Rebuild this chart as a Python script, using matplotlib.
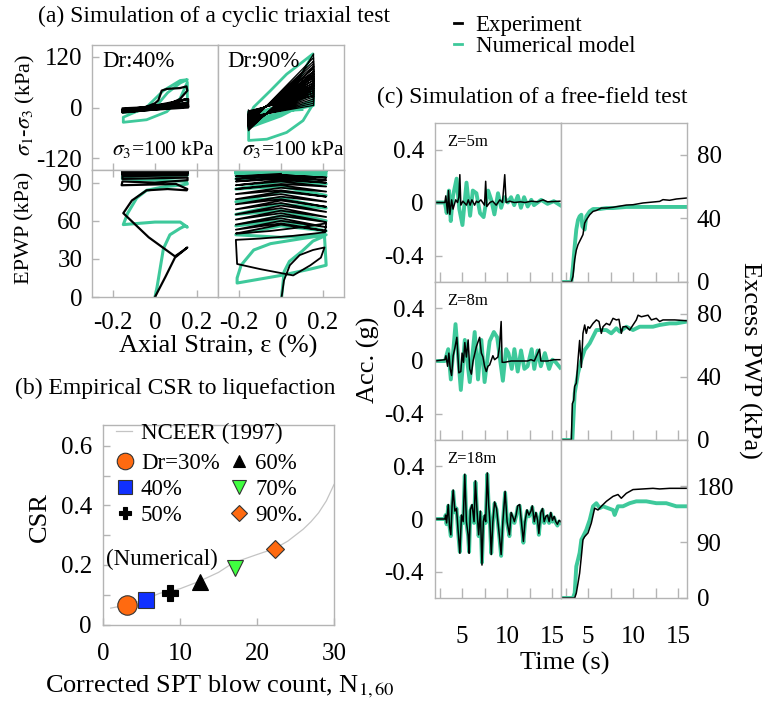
import numpy as np
import matplotlib
matplotlib.use('Agg')
import matplotlib.pyplot as plt
from matplotlib.lines import Line2D

plt.rcParams['font.family'] = ['Liberation Serif', 'DejaVu Serif']
plt.rcParams['mathtext.fontset'] = 'stix'

W, H = 763, 702
EXP = 'black'
NUM = '#3ec99b'
GRID = '#b4b4b4'
TICK_FS = 18
LAB_FS = 19
TITLE_FS = 17

# ---------------- (a) cyclic triaxial test : (strain %, value) ----------------
s40_exp = [(0, 0), (0.1, 14), (0.15, 20), (0.1, 12), (-0.05, -5), (-0.155, -8), (-0.1, -10),
           (0.0, 10), (0.016, 17), (0.032, 40), (0.056, 44), (0.119, 46), (0.15, 50), (0.154, 40),
           (0.119, 20), (0.071, 9), (-0.155, -6), (-0.155, -11), (0.158, 20), (0.158, 12),
           (-0.155, -9), (-0.155, -6), (0.158, 9), (0.158, 6), (-0.155, -4), (-0.155, -2),
           (0.158, 5), (0.158, 2), (-0.155, -8), (-0.155, -12), (0.158, 3), (0.158, 0), (-0.155, -10)]
s40_num = [(0, 0), (0.06, 35), (0.12, 58), (0.154, 66), (0.12, 64), (0.04, 40), (-0.04, 1),
           (-0.151, -23), (-0.151, -35), (-0.04, -29), (0.056, -10), (0.119, 21), (0.154, 60),
           (0.154, 10), (-0.15, -8), (-0.15, -12), (0.154, 6), (0.154, 4), (-0.15, -10),
           (-0.15, -9), (0.154, 8)]

s90_num = [(0, 0), (0.05, 35), (0.1, 80), (0.152, 127), (0.09, 103), (0.027, 79), (-0.05, 40),
           (-0.13, 1), (-0.154, -23), (-0.154, -78), (-0.067, -75), (0.027, -59), (0.105, -31),
           (0.155, 10), (0.155, 55), (0.155, 20), (0.0, -20), (-0.155, -48), (-0.155, -30),
           (0.0, 5), (0.155, 45), (0.155, 15), (-0.155, -42), (-0.155, -25), (0.155, 38),
           (0.155, 10), (-0.155, -38), (-0.155, -20), (0.155, 30), (0.155, 5), (-0.155, -30),
           (-0.155, -10), (0.0, -8), (0.1, -5)]
# strain-controlled cycles of the Dr:90% test (experiment), read per cycle
s90_amp = 0.155
s90_exp_hi = [127, 118, 110, 104, 98, 92, 86, 80, 75, 70, 64, 58, 52, 46, 40, 34, 28]
s90_exp_drop = [95, 85, 78, 72, 66, 60, 55, 50, 45, 40, 35, 30, 25, 20, 15, 10, 5]
s90_exp_lo = [-55, -52, -50, -48, -46, -44, -42, -40, -38, -36, -34, -32, -30, -28, -26, -24, -22]
s90_exp_rise = [-40, -38, -35, -33, -30, -28, -26, -24, -22, -20, -18, -16, -14, -12, -10, -8, -6]

p40_exp = [(0, 0), (0.05, 16), (0.095, 31), (0.154, 39), (0.13, 36), (0.095, 32), (-0.03, 47),
           (-0.151, 66), (-0.11, 76), (-0.04, 84), (0.06, 85), (0.151, 84), (0.154, 85), (0.1, 89),
           (-0.159, 88), (-0.155, 91), (0.0, 90), (0.155, 92), (0.155, 94), (-0.155, 93),
           (-0.155, 95), (0.155, 96), (0.155, 97), (-0.155, 96), (-0.155, 97), (0.155, 98),
           (0.155, 99), (-0.155, 98), (-0.155, 99), (0.155, 99), (0.155, 97.5), (-0.155, 98.5),
           (-0.155, 96.5), (0.155, 97.5), (0.155, 99.5), (-0.155, 99.5)]
p40_num = [(0, 0), (0.01, 8), (0.024, 22), (0.04, 38), (0.071, 49), (0.119, 54), (0.143, 56),
           (0.154, 55), (0.12, 59), (0.0, 59), (-0.151, 57), (-0.13, 66), (-0.087, 78), (-0.04, 84),
           (0.05, 87), (0.119, 88), (0.154, 89), (0.15, 91), (-0.155, 93), (-0.155, 95),
           (0.155, 96), (0.155, 97), (-0.155, 98), (-0.155, 99), (0.155, 99), (0.155, 100),
           (-0.155, 100)]

p90_amp = 0.215
p90_exp = [(0.003, 0), (0.014, 13), (0.042, 25), (0.089, 33), (0.152, 37), (0.207, 39), (0.19, 31),
           (0.14, 25), (0.058, 17), (-0.1, 22), (-0.209, 26), (-0.215, 45), (-0.1, 46), (0.05, 48),
           (0.16, 50), (0.21, 51), (0.215, 58), (0.1, 55), (-0.05, 52), (-0.2, 50), (-0.215, 50)]
# edge / mid-strain values of the later cycles (left edge, middle, right edge, middle, ...)
p90_exp_cyc = [50, 57, 52, 58, 53, 60, 55, 62, 57, 64, 59, 66, 61, 68, 63, 70, 65, 72, 67, 74,
               69, 76, 71, 77, 73, 79, 75, 81, 77, 83, 79, 84, 81, 86, 83, 88, 85, 89, 87, 91,
               88, 92, 90, 93, 91, 94, 92, 95, 93, 96, 94, 96, 95, 97]
p90_num = [(0.003, 0), (0.015, 20), (0.04, 28), (0.1, 36), (0.152, 44), (0.207, 48), (0.215, 25),
           (0.14, 22), (0.0, 17), (-0.209, 11), (-0.209, 15), (-0.19, 25), (-0.13, 37),
           (-0.05, 42), (0.1, 46), (0.215, 49), (0.0, 47), (-0.215, 49)]
p90_num_cyc = [49, 56, 52, 60, 56, 64, 60, 68, 65, 73, 70, 78, 75, 83, 80, 87, 85, 91, 89, 95,
               93, 97, 95, 98, 96, 99, 97, 100, 98, 100, 99, 100, 98, 100, 99, 100, 99, 100]

# ---------------- (b) CSR vs N1,60 ----------------
nceer_n = [1, 3, 5, 7.4, 10, 12.5, 15, 16.9, 20, 22.3, 24, 26, 27, 28, 29, 30]
nceer_csr = [0.055, 0.065, 0.08, 0.105, 0.12, 0.145, 0.175, 0.207, 0.235, 0.255, 0.28, 0.32,
             0.345, 0.375, 0.415, 0.47]
dr_labels = ['Dr=30%', '40%', '50%', '60%', '70%', '90%.']
dr_n = [3.1, 5.6, 8.7, 12.6, 17.2, 22.3]
dr_csr = [0.066, 0.081, 0.106, 0.142, 0.19, 0.255]

# ---------------- (c) free-field test : (time s, value) ----------------
acc5_exp = [(2.0, 0), (3.1, 0), (3.2, 0.05), (3.4, -0.08), (3.5, 0.09), (3.65, -0.09), (3.85, 0.02),
            (4.0, -0.05), (4.3, 0.02), (4.5, 0), (4.65, 0.04), (4.76, 0.21), (4.87, -0.02),
            (5.1, 0.01), (5.5, -0.02), (5.7, 0.02), (5.9, -0.02), (6.1, 0.02), (6.4, -0.02),
            (6.6, 0.01), (6.8, 0), (7.1, 0.02), (7.5, -0.02), (7.63, 0.16), (7.75, -0.03),
            (8.1, 0), (8.4, 0.01), (8.8, -0.02), (9.2, 0.02), (9.5, 0), (9.75, 0.21), (9.9, 0),
            (10.3, 0.01), (10.8, 0), (11.5, 0.005), (12.0, 0), (12.7, 0.01), (13.4, 0.005),
            (14.0, 0.02), (14.5, 0.005), (15.9, 0.01)]
acc5_num = [(2.0, 0), (3.1, 0), (3.3, -0.08), (3.55, 0.09), (3.75, -0.14), (4.0, 0.05), (4.4, 0.18),
            (4.7, -0.05), (5.05, -0.17), (5.5, 0.15), (5.9, -0.1), (6.2, 0.09), (6.6, 0.07),
            (7.0, -0.08), (7.4, -0.11), (7.9, 0.09), (8.25, 0.02), (8.6, -0.09), (9.0, 0.07),
            (9.35, -0.04), (9.7, 0.04), (10.1, 0.0), (10.45, 0.04), (10.8, -0.02), (11.2, 0.05),
            (11.55, -0.04), (11.9, 0.04), (12.3, -0.03), (12.7, 0.02), (13.0, -0.02),
            (13.8, 0.02), (14.5, -0.01), (15.2, 0.01), (15.9, -0.02)]
acc8_exp = [(2.0, 0), (3.1, 0.01), (3.21, 0.04), (3.4, -0.04), (3.54, 0.06), (3.69, -0.06),
            (3.84, -0.11), (4.02, 0.04), (4.21, 0.1), (4.43, 0.18), (4.65, -0.09), (4.87, -0.08),
            (5.01, 0.06), (5.16, -0.01), (5.31, 0.14), (5.49, 0.03), (5.68, 0.16), (5.86, -0.06),
            (6.04, -0.1), (6.23, 0), (6.6, 0.11), (6.96, 0.18), (7.15, 0.06), (7.33, 0.03),
            (7.51, -0.04), (7.7, -0.08), (7.88, -0.04), (8.07, -0.03), (8.43, 0.04), (8.62, 0.01),
            (8.99, 0.03), (9.17, 0.11), (9.35, 0.3), (9.46, -0.01), (9.72, -0.01), (10.46, 0),
            (11.56, 0), (12.29, 0), (12.66, 0.01), (13.03, 0), (13.62, 0.09), (13.76, 0),
            (14.5, 0), (15.24, 0.01), (15.9, 0.01)]
acc8_num = [(2.0, 0), (3.1, 0), (3.47, 0.09), (3.76, -0.14), (4.28, 0.28), (4.87, -0.22),
            (5.31, 0.16), (5.86, -0.16), (6.41, 0.22), (6.78, -0.14), (7.15, 0.16), (7.51, -0.16),
            (8.07, 0.15), (8.54, 0.22), (8.91, 0.18), (9.54, -0.15), (9.9, 0.09), (10.16, 0.06),
            (10.53, -0.06), (10.82, 0.09), (11.19, -0.08), (11.56, 0.08), (11.93, -0.06),
            (12.29, -0.04), (12.74, 0.09), (13.03, -0.06), (13.4, 0.08), (13.76, -0.04),
            (14.21, 0.06), (14.68, -0.06), (15.05, 0.01), (15.42, -0.01), (15.9, -0.05)]
acc18_exp = [(2.0, 0), (3.1, 0), (3.18, 0.03), (3.29, -0.03), (3.47, 0.11), (3.62, -0.06),
             (3.76, -0.12), (3.91, 0.12), (4.02, 0.22), (4.21, 0.06), (4.39, 0.08), (4.57, -0.09),
             (4.76, -0.26), (4.94, 0.03), (5.13, -0.02), (5.31, 0.34), (5.49, -0.02), (5.68, -0.12),
             (5.79, -0.26), (5.93, 0.07), (6.12, 0.11), (6.34, -0.02), (6.49, 0.29), (6.67, 0.06),
             (6.85, -0.12), (7.04, 0.06), (7.22, -0.35), (7.37, -0.02), (7.51, 0.03), (7.63, -0.02),
             (7.81, 0.35), (7.96, 0.11), (8.1, -0.02), (8.25, -0.27), (8.43, -0.02), (8.62, 0.13),
             (8.84, 0.08), (8.99, -0.02), (9.17, -0.14), (9.35, -0.27), (9.54, -0.02), (9.79, 0.21),
             (10.01, -0.02), (10.27, -0.12), (10.46, 0.05), (10.68, 0.01), (10.82, -0.02),
             (11.01, 0.03), (11.19, 0.1), (11.41, 0.11), (11.63, -0.04), (11.82, -0.17),
             (12.0, -0.02), (12.22, 0.07), (12.44, 0.03), (12.66, 0.06), (12.81, 0.1),
             (13.03, -0.02), (13.21, 0.05), (13.4, -0.01), (13.54, -0.11), (13.76, 0.05),
             (13.95, 0.08), (14.13, -0.02), (14.32, 0.02), (14.5, 0.03), (14.68, -0.02),
             (14.87, 0.05), (15.05, -0.01), (15.24, 0.02), (15.42, -0.02), (15.6, -0.04),
             (15.79, -0.01), (15.97, -0.02)]
acc18_num = [(2.0, 0), (3.1, 0), (3.18, 0.03), (3.29, -0.04), (3.47, 0.1), (3.62, -0.06),
             (3.76, -0.13), (3.91, 0.11), (4.02, 0.21), (4.21, 0.05), (4.39, 0.08), (4.57, -0.1),
             (4.76, -0.25), (4.94, 0.02), (5.13, -0.03), (5.31, 0.33), (5.49, -0.03), (5.68, -0.13),
             (5.79, -0.25), (5.93, 0.06), (6.12, 0.1), (6.34, -0.03), (6.49, 0.28), (6.67, 0.05),
             (6.85, -0.13), (7.04, 0.05), (7.22, -0.33), (7.37, -0.03), (7.51, 0.02), (7.63, -0.03),
             (7.81, 0.34), (7.96, 0.1), (8.1, -0.03), (8.25, -0.26), (8.43, -0.03), (8.62, 0.12),
             (8.84, 0.07), (8.99, -0.03), (9.17, -0.15), (9.35, -0.28), (9.54, -0.03), (9.79, 0.2),
             (10.01, -0.03), (10.27, -0.13), (10.46, 0.04), (10.68, 0.0), (10.82, -0.03),
             (11.01, 0.02), (11.19, 0.09), (11.41, 0.1), (11.63, -0.05), (11.82, -0.18),
             (12.0, -0.03), (12.22, 0.06), (12.44, 0.02), (12.66, 0.05), (12.81, 0.09),
             (13.03, -0.03), (13.21, 0.04), (13.4, -0.02), (13.54, -0.12), (13.76, 0.04),
             (13.95, 0.07), (14.13, -0.03), (14.32, 0.01), (14.5, 0.02), (14.68, -0.03),
             (14.87, 0.04), (15.05, -0.02), (15.24, 0.01), (15.42, -0.03), (15.6, -0.05),
             (15.79, -0.02), (15.97, -0.03)]

pwp5_exp = [(2, 0), (3.15, 0), (3.33, 3.6), (3.52, 14), (3.7, 20), (3.89, 23.5), (4.26, 27.7),
            (4.44, 29.8), (4.63, 37), (4.81, 39), (5.19, 42.3), (5.56, 44.4), (5.93, 45),
            (6.48, 46.5), (7.04, 46.5), (7.78, 47), (9.26, 48.4), (10.0, 48.6), (11.11, 49.7),
            (12.22, 50.3), (12.96, 50.7), (13.33, 51.8), (14.07, 51.4), (14.81, 52.2), (15.93, 52.8)]
pwp5_num = [(2, 0), (3.15, 0), (3.33, 9.9), (3.52, 22.4), (3.7, 33), (3.89, 39), (4.07, 41.3),
            (4.26, 42.3), (4.37, 35), (4.63, 33), (4.81, 41.3), (5.19, 44.4), (5.56, 45.9),
            (6.3, 45.9), (7.04, 46.5), (7.78, 46.5), (9.26, 47.2), (11.11, 47.2), (12.96, 47.2),
            (15.93, 47.2)]
pwp8_exp = [(2, 0), (3.15, 0), (3.26, 23), (3.41, 25), (3.52, 34), (3.7, 36), (3.89, 50.6),
            (4.07, 63), (4.26, 46), (4.44, 67.5), (4.63, 72.8), (4.81, 67.5), (5.0, 71.7),
            (5.19, 70.7), (5.56, 73.8), (5.93, 76), (6.22, 75), (6.48, 67.5), (6.67, 71.7),
            (7.04, 73.8), (7.41, 72.8), (7.78, 77), (8.15, 76), (8.44, 76.4), (8.7, 67.5),
            (8.89, 71.7), (9.26, 71.7), (9.63, 69.6), (10.0, 72.8), (10.37, 76), (10.56, 79),
            (10.93, 78), (11.67, 79), (12.04, 76), (12.59, 77), (12.96, 75), (13.33, 76),
            (14.07, 76), (14.63, 76), (15.93, 75.5)]
pwp8_num = [(2, 0), (3.26, 0), (3.52, 29.5), (3.89, 42.2), (4.26, 50.6), (4.63, 57), (5.19, 61.2),
            (5.56, 65.4), (5.93, 69.6), (6.48, 69.6), (7.04, 69.6), (7.59, 67.5), (8.15, 70.7),
            (8.52, 68.6), (9.26, 71.7), (10.0, 69.6), (10.74, 71.7), (11.48, 71.7), (12.22, 71.7),
            (12.96, 72.8), (14.07, 73.8), (14.81, 73.8), (15.93, 74.9)]
pwp18_exp = [(2, 0), (3.52, 0), (3.7, 8), (3.89, 24), (4.07, 40), (4.26, 67), (4.44, 94), (4.63, 99),
             (5.0, 105), (5.37, 121), (5.74, 145), (6.11, 142), (6.48, 148), (7.04, 156),
             (7.78, 164), (8.33, 167), (8.7, 161), (9.26, 169), (10.0, 175), (11.11, 176),
             (12.22, 177), (12.96, 176), (14.07, 177), (15.93, 177)]
pwp18_num = [(2, 0), (3.33, 0), (3.52, 8), (3.7, 51), (3.89, 62), (4.07, 73), (4.26, 94), (4.44, 99),
             (4.81, 110), (5.19, 126), (5.56, 148), (5.93, 153), (6.3, 145), (6.67, 148),
             (7.22, 145), (7.78, 142), (7.96, 134), (8.33, 148), (8.89, 148), (9.63, 153),
             (10.37, 156), (11.48, 156), (12.59, 153), (13.7, 153), (14.81, 148), (15.93, 148)]


def xy(pairs):
    a = np.array(pairs, dtype=float)
    return a[:, 0], a[:, 1]


def add_ax(x0, y0, x1, y1):
    return fig.add_axes([x0 / W, 1 - y1 / H, (x1 - x0) / W, (y1 - y0) / H])


def frame(ax):
    for s in ax.spines.values():
        s.set_color(GRID)
        s.set_linewidth(1.0)
    ax.tick_params(which='both', direction='in', color=GRID, width=1.0, length=5,
                   labelsize=TICK_FS)


fig = plt.figure(figsize=(7.63, 7.02), dpi=100)

# ================= (a) =================
ax_s40 = add_ax(92, 45, 218, 170)
ax_s90 = add_ax(218, 45, 344, 170)
ax_p40 = add_ax(92, 170, 218, 297)
ax_p90 = add_ax(218, 170, 344, 297)

# build the strain-controlled cycles from the per-cycle values
e90, q90 = [0.0], [0.0]
for hi, dr, lo, ri in zip(s90_exp_hi, s90_exp_drop, s90_exp_lo, s90_exp_rise):
    e90 += [s90_amp, s90_amp, -s90_amp, -s90_amp]
    q90 += [hi, dr, lo, ri]

side = [-p90_amp, 0.0, p90_amp, 0.0]
pe_x, pe_y = xy(p90_exp)
pe_x = list(pe_x) + [side[i % 4] for i in range(len(p90_exp_cyc))]
pe_y = list(pe_y) + p90_exp_cyc
pn_x, pn_y = xy(p90_num)
pn_x = list(pn_x) + [side[i % 4] for i in range(len(p90_num_cyc))]
pn_y = list(pn_y) + p90_num_cyc

ax_s40.plot(*xy(s40_num), color=NUM, lw=2.0)
ax_s40.plot(*xy(s40_exp), color=EXP, lw=1.6)
ax_s90.plot(*xy(s90_num), color=NUM, lw=2.0)
ax_s90.plot(e90, q90, color=EXP, lw=0.9)
ax_p40.plot(*xy(p40_num), color=NUM, lw=2.2)
ax_p40.plot(*xy(p40_exp), color=EXP, lw=1.6)
ax_p90.plot(pn_x, pn_y, color=NUM, lw=2.2)
ax_p90.plot(pe_x, pe_y, color=EXP, lw=1.3)

for ax in (ax_s40, ax_s90, ax_p40, ax_p90):
    frame(ax)
    ax.set_xlim(-0.3, 0.3)
    ax.set_xticks([-0.2, 0, 0.2])
for ax in (ax_s40, ax_s90):
    ax.set_ylim(-148, 148)
    ax.tick_params(labelbottom=False)
for ax in (ax_p40, ax_p90):
    ax.set_ylim(0, 100)
    ax.set_xticklabels(['-0.2', '0', '0.2'])
    ax.tick_params(axis='x', top=True, pad=11)
for ax in (ax_s90, ax_p90):
    ax.tick_params(left=False, labelleft=False)
ax_s40.set_yticks([-120, 0, 120], ['-120', '0', '120'])
ax_p40.set_yticks([0, 30, 60, 90])
ax_s40.tick_params(axis='y', pad=7)
ax_p40.tick_params(axis='y', pad=7)

ax_s40.text(0.08, 0.95, 'Dr:40%', transform=ax_s40.transAxes, va='top', fontsize=16.5)
ax_s90.text(0.07, 0.95, 'Dr:90%', transform=ax_s90.transAxes, va='top', fontsize=16.5)
ax_s40.text(0.16, 0.12, r'$\sigma_3$=100 kPa', transform=ax_s40.transAxes, va='baseline',
            fontsize=15.5)
ax_s90.text(0.19, 0.12, r'$\sigma_3$=100 kPa', transform=ax_s90.transAxes, va='baseline',
            fontsize=15.5)

fig.text(38 / W, 1 - 16 / H, '(a) Simulation of a cyclic triaxial test', fontsize=TITLE_FS,
         va='center')
fig.text(25 / W, 1 - 105 / H, r'$\sigma_1$-$\sigma_3$ (kPa)', rotation=90, ha='center',
         va='center', fontsize=16)
fig.text(25 / W, 1 - 228 / H, 'EPWP (kPa)', rotation=90, ha='center', va='center',
         fontsize=16)
fig.text(218 / W, 1 - 346 / H, 'Axial Strain, ε (%)', ha='center', va='center', fontsize=LAB_FS)

# ================= (b) =================
ax_b = add_ax(103, 425, 334, 624.5)
frame(ax_b)
ax_b.plot(nceer_n, nceer_csr, color='#c4c4c4', lw=0.9)
styles = [dict(marker='o', mfc='#ff6a10', mec='#333333', ms=14),
          dict(marker='s', mfc='#1030ff', mec='#333333', ms=12),
          dict(marker='P', mfc='black', mec='black', ms=11),
          dict(marker='^', mfc='black', mec='black', ms=11),
          dict(marker='v', mfc='#40ff40', mec='#333333', ms=12),
          dict(marker='D', mfc='#ff6a10', mec='#333333', ms=9)]
handles = []
for n, c, lab, st in zip(dr_n, dr_csr, dr_labels, styles):
    ax_b.plot([n], [c], ls='none', mew=0.8, zorder=3, **st)
    handles.append(Line2D([], [], ls='none', mew=0.8, **dict(st, ms=st['ms'] * 0.85)))
ax_b.set_xlim(0, 30)
ax_b.set_ylim(0, 0.67)
ax_b.set_xticks([0, 10, 20, 30])
ax_b.set_yticks([0, 0.2, 0.4, 0.6], ['0', '0.2', '0.4', '0.6'])
ax_b.set_yticks([0.1, 0.3, 0.5], minor=True)
ax_b.tick_params(axis='x', pad=13)
ax_b.tick_params(axis='y', pad=8)

leg1 = ax_b.legend([Line2D([], [], color='#c4c4c4', lw=0.9)], ['NCEER (1997)'],
                   loc='upper left', bbox_to_anchor=(0.055, 1.01), frameon=False,
                   borderpad=0, borderaxespad=0, handlelength=0.7, handletextpad=0.4,
                   fontsize=16.5)
ax_b.add_artist(leg1)
ax_b.legend(handles, dr_labels, ncol=2, loc='upper left', bbox_to_anchor=(0.055, 0.86),
            frameon=False, borderpad=0, borderaxespad=0, handlelength=0.8, handletextpad=0.3,
            columnspacing=0.45, labelspacing=0.22, fontsize=16.5)
ax_b.text(0.015, 0.325, '(Numerical)', transform=ax_b.transAxes, va='center', fontsize=16.5)

fig.text(15 / W, 1 - 388 / H, '(b) Empirical CSR to liquefaction', fontsize=TITLE_FS,
         va='center')
fig.text(40 / W, 1 - 517 / H, 'CSR', rotation=90, ha='center', va='center', fontsize=LAB_FS)
fig.text(220 / W, 1 - 687 / H, 'Corrected SPT blow count, N$_{1,60}$', ha='center',
         va='center', fontsize=LAB_FS)

# ================= (c) =================
rows = [(123, 282), (282, 440), (440, 598)]
acc_sets = [(acc5_exp, acc5_num), (acc8_exp, acc8_num), (acc18_exp, acc18_num)]
pwp_sets = [(pwp5_exp, pwp5_num), (pwp8_exp, pwp8_num), (pwp18_exp, pwp18_num)]
depths = ['Z=5m', 'Z=8m', 'Z=18m']
pwp_lim = [100, 100, 255]
pwp_ticks = [[0, 40, 80], [0, 40, 80], [0, 90, 180]]

for i, (y0, y1) in enumerate(rows):
    axl = add_ax(435, y0, 561, y1)
    axr = add_ax(561, y0, 687, y1)
    exp, num = acc_sets[i]
    axl.plot(*xy(num), color=NUM, lw=2.8)
    axl.plot(*xy(exp), color=EXP, lw=1.1)
    exp, num = pwp_sets[i]
    axr.plot(*xy(num), color=NUM, lw=2.8)
    axr.plot(*xy(exp), color=EXP, lw=1.1)
    for ax in (axl, axr):
        frame(ax)
        ax.set_xlim(2, 16)
        ax.set_xticks([5, 10, 15])
        ax.set_xticks([2.5, 7.5, 12.5], minor=True)
        ax.tick_params(axis='x', which='both', length=7, pad=20)
        if i < 2:
            ax.tick_params(labelbottom=False)
    axl.set_ylim(-0.6, 0.6)
    axl.set_yticks([-0.4, 0, 0.4], ['-0.4', '0', '0.4'])
    axl.tick_params(axis='y', pad=8)
    axr.set_ylim(0, pwp_lim[i])
    axr.yaxis.tick_right()
    axr.set_yticks(pwp_ticks[i])
    axr.tick_params(axis='y', which='both', direction='in', pad=7)
    axl.text(0.095, 0.88, depths[i], transform=axl.transAxes, va='center', fontsize=12)

fig.text(377 / W, 1 - 97 / H, '(c) Simulation of a free-field test', fontsize=TITLE_FS,
         va='center')
fig.text(368 / W, 1 - 360 / H, 'Acc. (g)', rotation=90, ha='center', va='center',
         fontsize=LAB_FS)
fig.text(750 / W, 1 - 360 / H, 'Excess PWP (kPa)', rotation=270, ha='center', va='center',
         fontsize=LAB_FS)
fig.text(565 / W, 1 - 663 / H, 'Time (s)', ha='center', va='center', fontsize=LAB_FS)

fig.legend([Line2D([], [], color=EXP, lw=2), Line2D([], [], color=NUM, lw=2)],
           ['Experiment', 'Numerical model'], loc='upper left',
           bbox_to_anchor=(454 / W, 1 - 15 / H), frameon=False, borderpad=0, borderaxespad=0,
           handlelength=0.35, handletextpad=0.6, labelspacing=0.0, fontsize=16.5)

fig.savefig('out.png', dpi=100)
